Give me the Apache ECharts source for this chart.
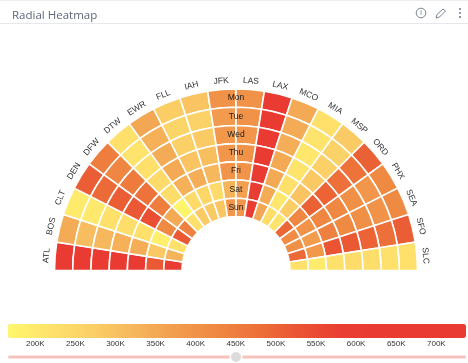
<!DOCTYPE html>
<html><head><meta charset="utf-8">
<style>html,body{margin:0;padding:0;background:#fff}#c{width:468px;height:363px}</style>
<script src="https://cdn.jsdelivr.net/npm/echarts@6/dist/echarts.min.js"></script></head>
<body><div id="c"></div>
<script>
const days = ['Mon','Tue','Wed','Thu','Fri','Sat','Sun'];
const airports = ['ATL','BOS','CLT','DEN','DFW','DTW','EWR','FLL','IAH','JFK','LAS','LAX','MCO','MIA','MSP','ORD','PHX','SEA','SFO','SLC'];
const ATL = [620,620,620,620,620,520,600];
const BOS = [345,310,320,335,340,285,330];
const CLT = [195,200,225,230,225,185,225];
const DEN = [510,490,510,520,540,420,520];
const DFW = [450,430,455,470,450,350,440];
const DTW = [225,215,225,240,235,170,225];
const EWR = [355,335,345,350,335,240,280];
const FLL = [275,255,270,295,340,250,280];
const IAH = [295,265,280,305,320,240,290];
const JFK = [400,380,385,390,395,330,390];
const LAS = [400,400,390,400,395,365,390];
const LAX = [620,620,620,620,620,600,600];
const MCO = [350,345,340,350,350,345,355];
const MIA = [225,215,205,215,225,205,235];
const MSP = [280,265,270,285,295,275,215];
const ORD = [505,470,480,500,505,430,495];
const PHX = [420,390,405,425,430,395,415];
const SEA = [420,400,405,420,440,375,405];
const SFO = [510,480,500,520,530,385,490];
const SLC = [225,220,230,235,225,195,225];
const valuesByAirport = [ATL,BOS,CLT,DEN,DFW,DTW,EWR,FLL,IAH,JFK,LAS,LAX,MCO,MIA,MSP,ORD,PHX,SEA,SFO,SLC];
const scaleTicks = [200,250,300,350,400,450,500,550,600,650,700];

const cells = [];
valuesByAirport.forEach((vals,a)=>vals.forEach((v,d)=>cells.push([d,a,v])));
const chart = echarts.init(document.getElementById('c'),null,{renderer:'canvas'});
const labelFont = '"Liberation Sans",Arial,sans-serif';
chart.setOption({
  animation:false,
  backgroundColor:'#fff',
  title:{text:'Radial Heatmap',left:7,top:5,textStyle:{fontFamily:'"Open Sans",sans-serif',fontSize:11.5,fontWeight:'normal',color:'#5d677a'}},
  polar:{center:[236,270.5],radius:[54,181.5]},
  angleAxis:{type:'category',data:airports,startAngle:180,endAngle:0,clockwise:true,boundaryGap:true,
    axisLine:{show:false},axisTick:{show:false},axisLabel:{show:false},splitLine:{show:false}},
  radiusAxis:{type:'category',data:days,inverse:true,
    axisLine:{show:false},axisTick:{show:false},axisLabel:{show:false},splitLine:{show:false}},
  grid:{left:8,width:458,top:300,height:38,show:false,outerBoundsMode:'none'},
  xAxis:{type:'value',min:166,max:737,gridIndex:0,position:'bottom',
    axisLine:{show:false},axisTick:{show:false},splitLine:{show:false},
    axisLabel:{show:true,margin:2,fontSize:8,fontFamily:labelFont,color:'#333',formatter:'{value}K',
      customValues:scaleTicks}},
  yAxis:{type:'value',show:false,gridIndex:0},
  visualMap:{type:'continuous',min:166,max:737,seriesIndex:0,dimension:2,orient:'horizontal',left:8,top:324,itemWidth:14,itemHeight:458,
    calculable:false,realtime:false,hoverLink:false,text:null,textGap:0,padding:0,showLabel:false,itemSymbol:'rect',borderRadius:0,
    inRange:{color:['#fff76b','#fee26c','#fbd066','#f6b75c','#f29d4e','#ef8842','#ed7039','#ea5433','#e93c32','#e93b32','#e93b32','#e93b32']}},
  series:[
    {type:'custom',coordinateSystem:'polar',data:cells,encode:{radius:0,angle:1,value:2},
     renderItem(p,api){
       const r=api.value(0),a=api.value(1);
       const c=api.coord([r,a]);
       const s=api.size([1,1],[r,a]);
       const cs=p.coordSys;
       return {type:'sector',shape:{cx:cs.cx,cy:cs.cy,r0:c[2]-s[0]/2,r:c[2]+s[0]/2,
         startAngle:-c[3]-s[1]/2,endAngle:-c[3]+s[1]/2,clockwise:true},
         style:{fill:api.visual('color'),stroke:'#fff',lineWidth:1.6}};
     }},
    {type:'custom',coordinateSystem:'polar',data:airports.map((n,i)=>[0,i,n]),encode:{radius:0,angle:1},silent:true,z:5,
     renderItem(p,api){
       const i=api.value(1);
       const c=api.coord([0,i]);
       const cs=p.coordSys,R=cs.r+8.5,th=c[3];
       return {type:'text',x:cs.cx+R*Math.cos(th),y:cs.cy-R*Math.sin(th),rotation:th-Math.PI/2,
         style:{text:airports[i],fontSize:8.5,fontFamily:labelFont,fill:'#333',align:'center',verticalAlign:'middle'}};
     }},
    {type:'custom',coordinateSystem:'polar',data:days.map((n,i)=>[i,9,n]),encode:{radius:0,angle:1},silent:true,z:5,
     renderItem(p,api){
       const d=api.value(0);
       const c=api.coord([d,0]);
       const cs=p.coordSys;
       return {type:'text',x:cs.cx,y:cs.cy-c[2],
         style:{text:days[d],fontSize:8.5,fontFamily:labelFont,fill:'#222',align:'center',verticalAlign:'middle'}};
     }}
  ],
  graphic:[
    {type:'rect',shape:{x:0,y:0,width:468,height:1},style:{fill:'#eceef0'},silent:true},
    {type:'rect',shape:{x:0,y:23,width:468,height:1},style:{fill:'#e6e8eb'},silent:true},
    {type:'circle',shape:{cx:421,cy:13,r:4.8},style:{fill:'none',stroke:'#6b7484',lineWidth:0.9},silent:true},
    {type:'text',x:421,y:13,style:{text:'i',fontSize:7,fontFamily:labelFont,fill:'#6b7484',align:'center',verticalAlign:'middle'},silent:true},
    {type:'polygon',shape:{points:[[436,18],[437,14.5],[443,9],[445.5,11],[439.5,17]]},style:{fill:'none',stroke:'#6b7484',lineWidth:0.9},silent:true},
    {type:'circle',shape:{cx:460,cy:9,r:0.9},style:{fill:'#5d677a'},silent:true},
    {type:'circle',shape:{cx:460,cy:13,r:0.9},style:{fill:'#5d677a'},silent:true},
    {type:'circle',shape:{cx:460,cy:17,r:0.9},style:{fill:'#5d677a'},silent:true},
    {type:'rect',shape:{x:8,y:355.5,width:458,height:3,r:1.5},style:{fill:'#f5c3be'},silent:true},
    {type:'circle',shape:{cx:236,cy:357,r:6.5},style:{fill:'#fff'},silent:true},
    {type:'circle',shape:{cx:236,cy:357,r:5},style:{fill:'#dcdcdc'},silent:true}
  ]
});
</script></body></html>
